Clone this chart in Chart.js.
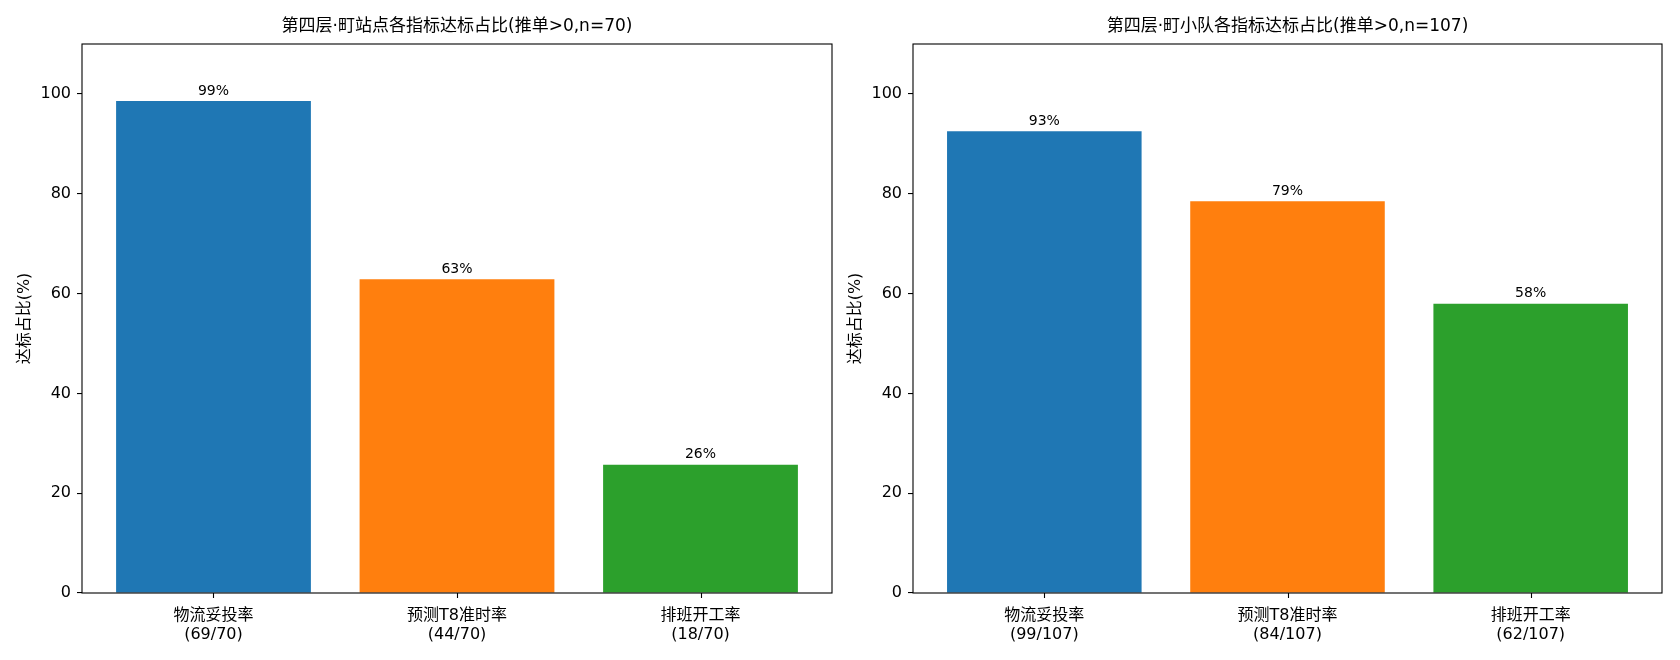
<!DOCTYPE html>
<html>
<head>
<meta charset="utf-8">
<script src="https://cdn.jsdelivr.net/npm/chart.js@4"></script>
<style>
    html, body { margin: 0; padding: 0; background: #fff; }
    #wrap { position: relative; width: 1680px; height: 660px; }
    canvas { position: absolute; top: 0; }
</style>
</head>
<body>
<div id="wrap">
    <canvas id="stationChart" width="840" height="660" style="left:0"></canvas>
    <canvas id="teamChart" width="840" height="660" style="left:840px"></canvas>
</div>
<script>
// Metric names (shared by both panels)
const metricNames = ['物流妥投率', '预测T8准时率', '排班开工率'];
const barColors = ['#1f77b4', '#ff7f0e', '#2ca02c'];

// Left panel: stations
const stationTitle = '第四层·町站点各指标达标占比(推单>0,n=70)';
const stationHits = [69, 44, 18];
const stationTotal = 70;
const stationPct = [98.57, 62.86, 25.71];

// Right panel: teams
const teamTitle = '第四层·町小队各指标达标占比(推单>0,n=107)';
const teamHits = [99, 84, 62];
const teamTotal = 107;
const teamPct = [92.52, 78.50, 57.94];

const yTicks = [0, 20, 40, 60, 80, 100];

const FONT_LATIN = '"DejaVu Sans", "Noto Sans CJK SC", sans-serif';

// --- Plugins ---

// Axes box, x tick marks and title centred over the plot area (matplotlib style)
const frameBox = {
    id: 'frameBox',
    afterDraw(chart, args, opts) {
        const { ctx, chartArea: a } = chart;
        const xScale = chart.scales.x;
        ctx.save();
        ctx.strokeStyle = '#000';
        ctx.lineWidth = 1.1;
        ctx.strokeRect(a.left, a.top, a.right - a.left, a.bottom - a.top);

        ctx.beginPath();
        xScale.ticks.forEach(t => {
            const px = Math.round(xScale.getPixelForValue(t.value)) + 0.5;
            ctx.moveTo(px, a.bottom);
            ctx.lineTo(px, a.bottom + 5);
        });
        ctx.stroke();

        ctx.font = '17px ' + FONT_LATIN;
        ctx.fillStyle = '#000';
        ctx.textAlign = 'center';
        ctx.textBaseline = 'middle';
        ctx.fillText(opts.text, (a.left + a.right) / 2, 27);
        ctx.restore();
    }
};

// Percent label on top of each bar
const barValues = {
    id: 'barValues',
    afterDatasetsDraw(chart) {
        const { ctx } = chart;
        const meta = chart.getDatasetMeta(0);
        const vals = chart.data.datasets[0].data;
        ctx.save();
        ctx.font = '14px ' + FONT_LATIN;
        ctx.fillStyle = '#000';
        ctx.textAlign = 'center';
        ctx.textBaseline = 'bottom';
        meta.data.forEach((bar, i) => {
            ctx.fillText(Math.round(vals[i].y) + '%', bar.x, bar.y - 3);
        });
        ctx.restore();
    }
};

function makeChart(canvasId, title, pct, hits, total, axisWidth, padRight, labelPad) {
    const ctx = document.getElementById(canvasId);
    const tickLabels = metricNames.map((name, i) => [name, `(${hits[i]}/${total})`]);

    return new Chart(ctx, {
        type: 'bar',
        data: {
            datasets: [{
                data: pct.map((v, i) => ({ x: i, y: v })),
                backgroundColor: barColors,
                borderWidth: 0,
                barPercentage: 0.8,
                categoryPercentage: 1.0
            }]
        },
        options: {
            responsive: false,
            animation: false,
            devicePixelRatio: 1,
            layout: { padding: { left: 0, right: padRight, top: 44, bottom: 0 } },
            plugins: {
                legend: { display: false },
                tooltip: { enabled: false },
                title: { display: false },
                frameBox: { text: title }
            },
            scales: {
                x: {
                    type: 'linear',
                    min: -0.54,
                    max: 2.54,
                    offset: false,
                    afterBuildTicks: (scale) => {
                        scale.ticks = metricNames.map((_, i) => ({ value: i }));
                    },
                    afterFit: (scale) => { scale.height = 67; },
                    border: { display: false },
                    grid: {
                        offset: false,
                        drawOnChartArea: false,
                        drawTicks: false
                    },
                    ticks: {
                        color: '#000',
                        padding: 14,
                        maxRotation: 0,
                        autoSkip: false,
                        font: { family: FONT_LATIN, size: 16, lineHeight: 1.15 },
                        callback: (v) => tickLabels[v]
                    }
                },
                y: {
                    min: 0,
                    max: 110,
                    afterBuildTicks: (scale) => {
                        scale.ticks = yTicks.map(v => ({ value: v }));
                    },
                    afterFit: (scale) => { scale.width = axisWidth; },
                    border: { display: false },
                    grid: {
                        drawOnChartArea: false,
                        drawTicks: true,
                        tickLength: 5,
                        color: '#000',
                        lineWidth: 1.1
                    },
                    ticks: {
                        color: '#000',
                        padding: 6,
                        font: { family: FONT_LATIN, size: 16 }
                    },
                    title: {
                        display: true,
                        text: '达标占比(%)',
                        color: '#000',
                        font: { family: FONT_LATIN, size: 16 },
                        padding: { top: labelPad, bottom: 0 }
                    }
                }
            }
        },
        plugins: [frameBox, barValues]
    });
}

makeChart('stationChart', stationTitle, stationPct, stationHits, stationTotal, 82, 8, 15.5);
makeChart('teamChart', teamTitle, teamPct, teamHits, teamTotal, 73, 18, 6.5);
</script>
</body>
</html>
